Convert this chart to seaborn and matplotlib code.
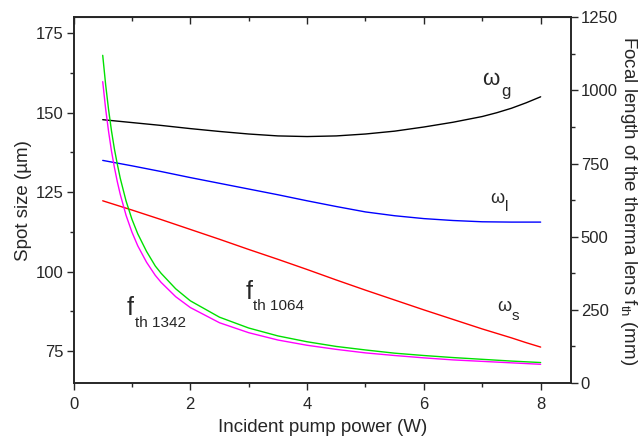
import matplotlib
matplotlib.use('Agg')
import matplotlib.pyplot as plt
from matplotlib.ticker import MultipleLocator
import pandas as pd
import seaborn as sns

# spot sizes (um), left axis
power = [0.5, 1.0, 1.5, 2.0, 2.5, 3.0, 3.5, 4.0, 4.5, 5.0, 5.5, 6.0, 6.5, 7.0, 7.25, 7.5, 7.75, 8.0]
w_g = [147.8, 146.9, 146.0, 145.0, 144.1, 143.3, 142.7, 142.5, 142.7, 143.3, 144.2, 145.5,
       147.0, 148.8, 150.0, 151.4, 153.1, 155.0]
w_l = [135.0, 133.3, 131.5, 129.6, 127.8, 126.0, 124.2, 122.3, 120.5, 118.8, 117.6, 116.7,
       116.1, 115.7, 115.65, 115.6, 115.6, 115.6]
w_s = [122.3, 119.4, 116.4, 113.3, 110.2, 107.0, 103.9, 100.7, 97.4, 94.2, 91.1, 88.0,
       85.0, 82.0, 80.6, 79.2, 77.7, 76.3]

# thermal focal lengths (mm), right axis
power_f = [0.5, 0.55, 0.6, 0.65, 0.7, 0.75, 0.8, 0.9, 1.0, 1.1, 1.25, 1.4, 1.5, 1.75, 2.0,
           2.5, 3.0, 3.5, 4.0, 4.5, 5.0, 5.5, 6.0, 6.5, 7.0, 7.5, 8.0]
f_1064 = [1120, 1020, 935, 862, 800, 748, 700, 622, 560, 510, 450, 400, 375, 322, 281,
          225, 188, 161, 141, 125, 113, 102, 94, 87, 81, 75, 70]
f_1342 = [1030, 937, 860, 793, 737, 688, 645, 573, 516, 469, 413, 368, 344, 295, 258,
          206, 172, 147, 129, 115, 103, 94, 86, 79, 74, 69, 64]

sns.set_style('ticks')
plt.rcParams['font.family'] = ['Liberation Sans', 'DejaVu Sans']
plt.rcParams['mathtext.fontset'] = 'custom'
plt.rcParams['mathtext.rm'] = 'Liberation Sans'
plt.rcParams['mathtext.it'] = 'Liberation Sans'

df_w = pd.DataFrame({'power': power, 'wg': w_g, 'wl': w_l, 'ws': w_s})
df_f = pd.DataFrame({'power': power_f, 'f1064': f_1064, 'f1342': f_1342})

fig = plt.figure(figsize=(6.41, 4.40), dpi=100)
ax = fig.add_axes([0.1147, 0.1295, 0.7761, 0.8312])
ax2 = ax.twinx()

lw = 1.0
sns.lineplot(x='power', y='wg', data=df_w, ax=ax, color='black', lw=lw)
sns.lineplot(x='power', y='wl', data=df_w, ax=ax, color='#0000ff', lw=lw)
sns.lineplot(x='power', y='ws', data=df_w, ax=ax, color='#ff0000', lw=lw)
sns.lineplot(x='power', y='f1064', data=df_f, ax=ax2, color='#00e000', lw=lw)
sns.lineplot(x='power', y='f1342', data=df_f, ax=ax2, color='#ff00ff', lw=lw)

ax.set_xlim(0, 8.52)
ax.set_ylim(65, 180)
ax2.set_ylim(0, 1250)

ax.xaxis.set_major_locator(MultipleLocator(2))
ax.xaxis.set_minor_locator(MultipleLocator(1))
ax.yaxis.set_major_locator(MultipleLocator(25))
ax.yaxis.set_minor_locator(MultipleLocator(12.5))
ax2.yaxis.set_major_locator(MultipleLocator(250))
ax2.yaxis.set_minor_locator(MultipleLocator(125))

for a in (ax, ax2):
    a.tick_params(which='major', length=5, width=1, labelsize=12, direction='out', pad=2)
    a.tick_params(which='minor', length=3, width=1, direction='out')
    for s in a.spines.values():
        s.set_linewidth(1.2)
        s.set_visible(True)
ax.tick_params(axis='x', which='major', pad=5)

top = ax.secondary_xaxis('top')
top.xaxis.set_major_locator(MultipleLocator(2))
top.xaxis.set_minor_locator(MultipleLocator(1))
top.tick_params(which='major', direction='in', length=5, width=1, labeltop=False)
top.tick_params(which='minor', direction='in', length=3, width=1)

ax.set_xlabel('Incident pump power (W)', fontsize=13.5, labelpad=5)
ax.set_ylabel('Spot size (\u00b5m)', fontsize=13.5, labelpad=3)
ax2.set_ylabel('Focal length of the therma lens f$_{th}$ (mm)', fontsize=13.5,
               rotation=270, labelpad=15)

ax.text(7.0, 160.5, r'$\omega$', fontsize=16, ha='left', va='center')
ax.text(7.32, 156.8, 'g', fontsize=12, ha='left', va='center')
ax.text(7.13, 123.1, r'$\omega$', fontsize=13, ha='left', va='center')
ax.text(7.39, 120.4, 'l', fontsize=11, ha='left', va='center')
ax.text(7.25, 89.0, r'$\omega$', fontsize=13, ha='left', va='center')
ax.text(7.51, 86.2, 's', fontsize=11, ha='left', va='center')
ax.text(2.94, 93.5, 'f', fontsize=18, ha='left', va='center')
ax.text(3.07, 89.3, 'th 1064', fontsize=11, ha='left', va='center')
ax.text(0.915, 88.7, 'f', fontsize=18, ha='left', va='center')
ax.text(1.05, 84.0, 'th 1342', fontsize=11, ha='left', va='center')

fig.savefig('out.png', dpi=100)
